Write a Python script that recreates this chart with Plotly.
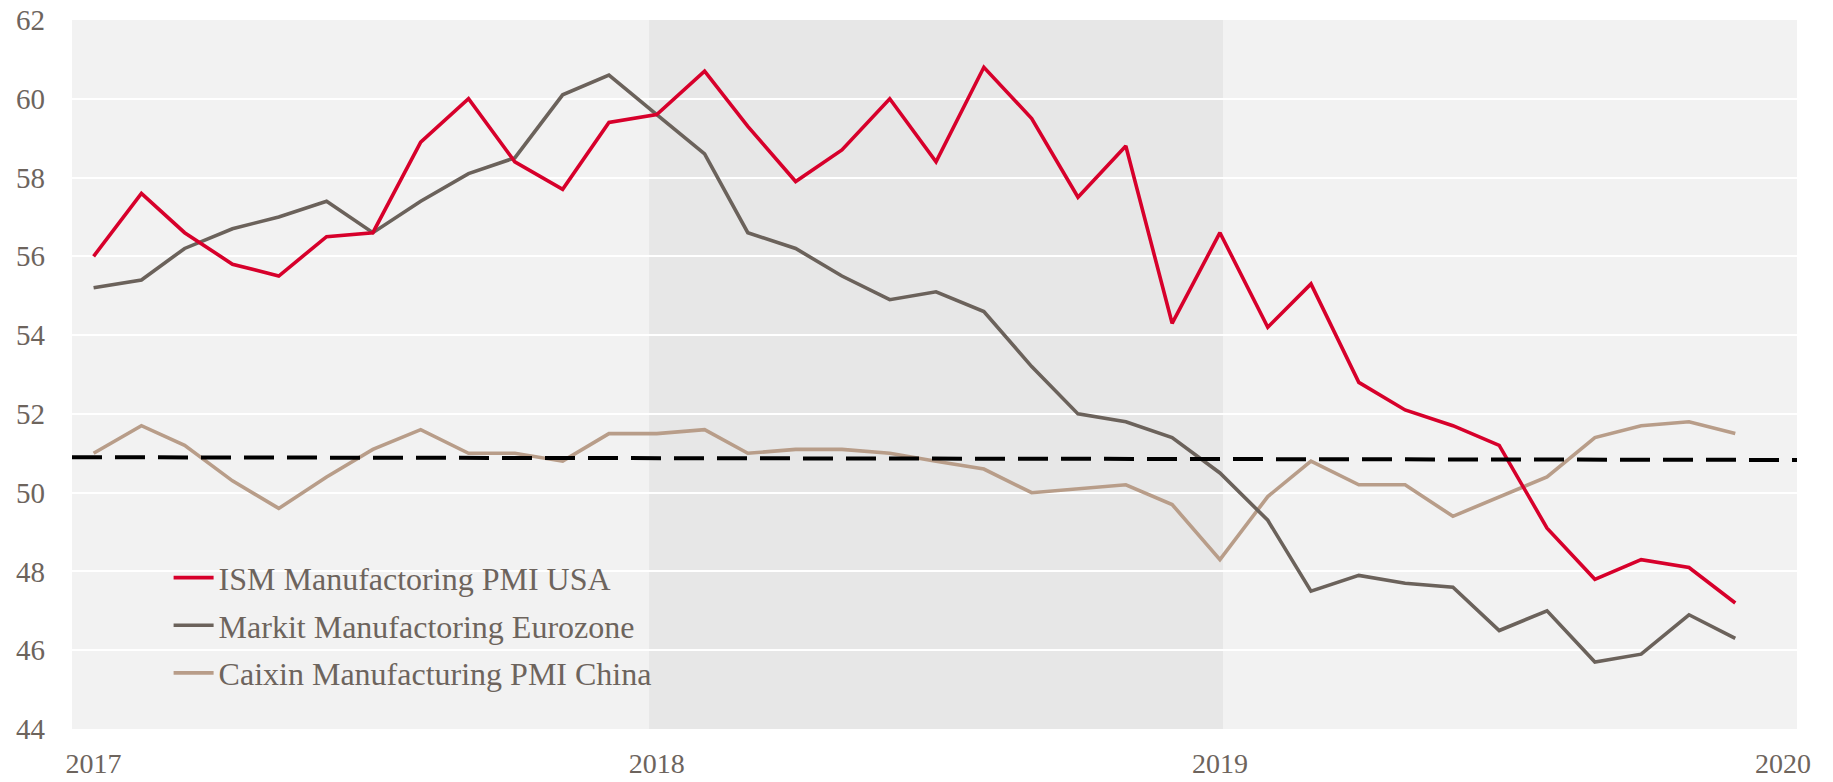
import pandas as pd
import plotly.graph_objects as go

# ---------------- data ----------------
months = pd.date_range("2017-01-01", periods=36, freq="MS")

ism_usa = [56.0, 57.6, 56.6, 55.8, 55.5, 56.5, 56.6, 58.9, 60.0, 58.4, 57.7, 59.4,
           59.6, 60.7, 59.3, 57.9, 58.7, 60.0, 58.4, 60.8, 59.5, 57.5, 58.8, 54.3,
           56.6, 54.2, 55.3, 52.8, 52.1, 51.7, 51.2, 49.1, 47.8, 48.3, 48.1, 47.2]
markit_ez = [55.2, 55.4, 56.2, 56.7, 57.0, 57.4, 56.6, 57.4, 58.1, 58.5, 60.1, 60.6,
             59.6, 58.6, 56.6, 56.2, 55.5, 54.9, 55.1, 54.6, 53.2, 52.0, 51.8, 51.4,
             50.5, 49.3, 47.5, 47.9, 47.7, 47.6, 46.5, 47.0, 45.7, 45.9, 46.9, 46.3]
caixin_cn = [51.0, 51.7, 51.2, 50.3, 49.6, 50.4, 51.1, 51.6, 51.0, 51.0, 50.8, 51.5,
             51.5, 51.6, 51.0, 51.1, 51.1, 51.0, 50.8, 50.6, 50.0, 50.1, 50.2, 49.7,
             48.3, 49.9, 50.8, 50.2, 50.2, 49.4, 49.9, 50.4, 51.4, 51.7, 51.8, 51.5]

series_names = ["ISM Manufactoring PMI USA", "Markit Manufactoring Eurozone",
                "Caixin Manufacturing PMI China"]

x_range = ["2016-12-18", "2020-01-10"]
ref_x = ["2016-12-18", "2020-01-10"]
ref_y = [50.9, 50.83]

shade_x = ["2017-12-27", "2019-01-03"]

tick_vals = ["2017-01-01", "2018-01-01", "2019-01-01", "2020-01-01"]
tick_text = ["2017", "2018", "2019", "2020"]
y_ticks = [44, 46, 48, 50, 52, 54, 56, 58, 60, 62]

# ---------------- style ----------------
C_RED = "#d7002b"
C_DARK = "#6b625b"
C_TAN = "#b89d89"
C_TEXT = "#6d645d"
FONT = "Liberation Serif"

fig = go.Figure()

fig.add_trace(go.Scatter(x=months, y=caixin_cn, name=series_names[2], mode="lines",
                         line=dict(color=C_TAN, width=3.6), legendrank=3,
                         legendgroup="c"))
fig.add_trace(go.Scatter(x=months, y=markit_ez, name=series_names[1], mode="lines",
                         line=dict(color=C_DARK, width=3.6), legendrank=2,
                         legendgroup="b"))
fig.add_trace(go.Scatter(x=months, y=ism_usa, name=series_names[0], mode="lines",
                         line=dict(color=C_RED, width=3.6), legendrank=1,
                         legendgroup="a"))
fig.add_trace(go.Scatter(x=ref_x, y=ref_y, mode="lines", showlegend=False,
                         line=dict(color="#000000", width=4, dash="30px,13px"),
                         hoverinfo="skip"))

fig.add_shape(type="rect", xref="x", yref="paper", x0=shade_x[0], x1=shade_x[1],
              y0=0, y1=1, fillcolor="#e7e7e7", line=dict(width=0), layer="below")

fig.update_layout(
    width=1833, height=782,
    margin=dict(l=72, r=36, t=20, b=53, autoexpand=False),
    paper_bgcolor="#ffffff",
    plot_bgcolor="#f2f2f2",
    font=dict(family=FONT, color=C_TEXT, size=29),
    showlegend=True,
    legend=dict(x=0.056, y=0.252, xanchor="left", yanchor="top",
                bgcolor="rgba(0,0,0,0)", font=dict(size=32, family=FONT, color=C_TEXT),
                traceorder="grouped", tracegroupgap=3, itemwidth=40),
    xaxis=dict(type="date", range=x_range, tickvals=tick_vals, ticktext=tick_text,
               showgrid=False, zeroline=False, showline=False, ticks="",
               automargin=False, ticklabelstandoff=15, tickfont=dict(size=28)),
    yaxis=dict(range=[44, 62], tickvals=y_ticks, showgrid=True, gridcolor="#ffffff",
               gridwidth=2, zeroline=False, showline=False, ticks="",
               automargin=False, ticklabelstandoff=26, tickfont=dict(size=29)),
)

fig.write_html("out.html", config={"displayModeBar": False},
               post_script="document.body.style.margin='0';")
